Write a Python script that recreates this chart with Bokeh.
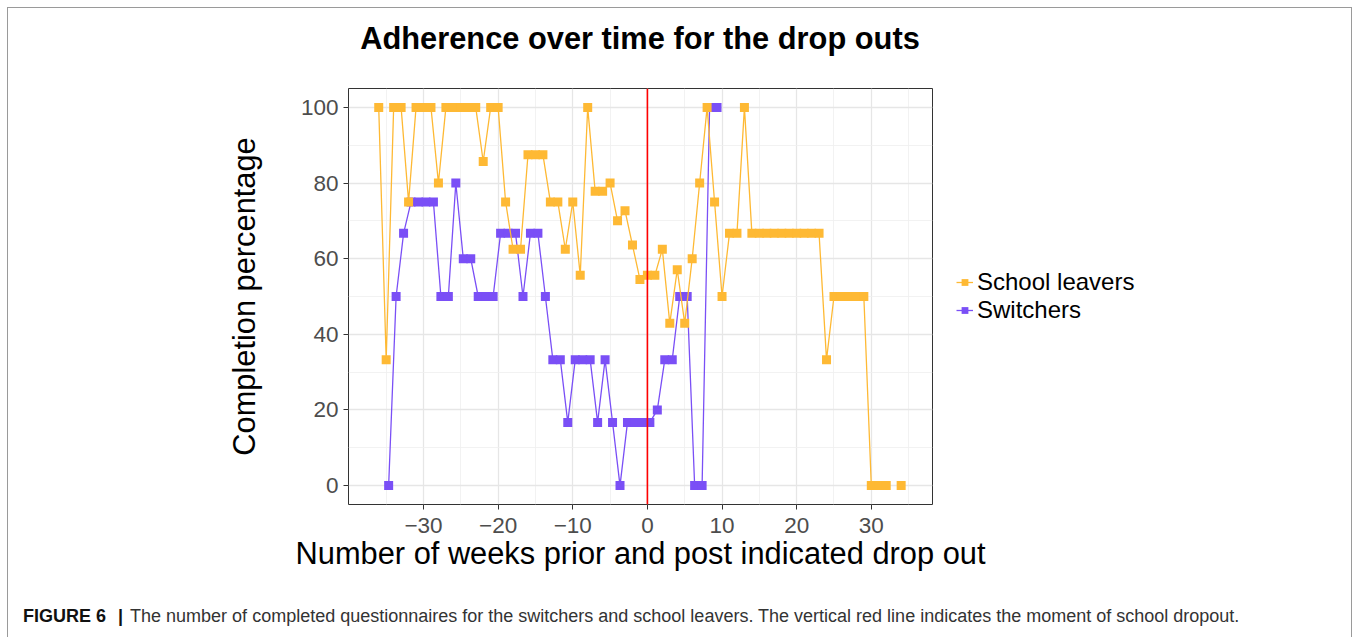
from bokeh.plotting import figure
from bokeh.models import (Range1d, FixedTicker, Span, Legend, LegendItem, Div,
                          ColumnDataSource)
from bokeh.layouts import column
from bokeh.transform import dodge
from bokeh.embed import file_html
from bokeh.resources import INLINE

nan = float("nan")

# ---- data -------------------------------------------------------------
leaver_weeks = list(range(-36, 35))
leaver_values = [
    100, 33.3, 100, 100, 75, 100, 100, 100, 80,            # -36 .. -28
    100, 100, 100, 100, 100, 85.7, 100, 100,               # -27 .. -20
    75, 62.5, 62.5, 87.5, 87.5, 87.5, 75, 75, 62.5, 75,    # -19 .. -10
    55.6, 100, 77.8, 77.8, 80, 70, 72.7, 63.6, 54.5,       # -9 .. -1
    55.6, 55.6, 62.5, 42.9, 57.1, 42.9, 60, 80, 100, 75,   # 0 .. 9
    50, 66.7, 66.7, 100,                                   # 10 .. 13
    66.7, 66.7, 66.7, 66.7, 66.7, 66.7, 66.7, 66.7, 66.7, 66.7,  # 14 .. 23
    33.3, 50, 50, 50, 50, 50,                              # 24 .. 29
    0, 0, 0, nan, 0,                                       # 30 .. 34
]

switcher_weeks = list(range(-35, 10))
switcher_values = [
    0, 50, 66.7, 75, 75, 75, 75, 50, 50, 80,               # -35 .. -26
    60, 60, 50, 50, 50, 66.7, 66.7, 66.7, 50, 66.7,        # -25 .. -16
    66.7, 50, 33.3, 33.3, 16.7, 33.3, 33.3, 33.3, 16.7, 33.3,  # -15 .. -6
    16.7, 0, 16.7, 16.7, 16.7, 16.7, 20, 33.3, 33.3, 50,   # -5 .. 4
    50, 0, 0, 100, 100,                                    # 5 .. 9
]

x_ticks = [-30, -20, -10, 0, 10, 20, 30]
x_tick_labels = ["\u221230", "\u221220", "\u221210", "0", "10", "20", "30"]
x_minor = [-35, -25, -15, -5, 5, 15, 25, 35]
y_ticks = [0, 20, 40, 60, 80, 100]
y_tick_labels = ["0", "20", "40", "60", "80", "100"]
y_minor = [10, 30, 50, 70, 90]

series_names = ["School leavers", "Switchers"]
title_text = "Adherence over time for the drop outs"
x_title = "Number of weeks prior and post indicated drop out"
y_title = "Completion percentage"
caption_bold = "FIGURE 6"
caption_text = ("The number of completed questionnaires for the switchers and school "
                "leavers. The vertical red line indicates the moment of school dropout.")

# ---- style ------------------------------------------------------------
FONT = "Liberation Sans"
ORANGE = "#FEB934"
PURPLE = "#7A4FF6"

title_div = Div(
    text=('<div style="width:1270px;text-align:center;padding-top:16px;'
          'font-family:\'Liberation Sans\';font-size:30.8px;font-weight:bold;'
          'line-height:36px;color:black;white-space:nowrap">' + title_text + '</div>'),
    width=1360, height=60)

p = figure(frame_width=584, frame_height=416, output_backend="svg", toolbar_location=None,
           x_range=Range1d(-40.05, 38.2), y_range=Range1d(-5, 105),
           min_border_left=348, min_border_right=0,
           min_border_top=18, min_border_bottom=93, title=None)
p.background_fill_color = "white"
p.border_fill_alpha = 0
p.outline_line_color = "#333333"
p.outline_line_width = 1

xt = FixedTicker(ticks=x_ticks, minor_ticks=x_minor)
yt = FixedTicker(ticks=y_ticks, minor_ticks=y_minor)
p.xaxis.ticker = xt
p.yaxis.ticker = yt
p.xgrid.ticker = xt
p.ygrid.ticker = yt
p.xaxis.major_label_overrides = dict(zip(x_ticks, x_tick_labels))
p.yaxis.major_label_overrides = dict(zip(y_ticks, y_tick_labels))

for g in (p.xgrid, p.ygrid):
    g.grid_line_color = "#e6e6e6"
    g.grid_line_width = 1.3
    g.minor_grid_line_color = "#efefef"
    g.minor_grid_line_width = 0.8

for ax in (p.xaxis, p.yaxis):
    ax.axis_line_color = None
    ax.major_tick_line_color = "#333333"
    ax.major_tick_in = 0
    ax.major_tick_out = 5
    ax.minor_tick_line_color = None
    ax.major_label_text_font = FONT
    ax.major_label_text_font_size = "22.5px"
    ax.major_label_text_color = "#4d4d4d"
    ax.axis_label_text_font = FONT
    ax.axis_label_text_font_size = "30.8px"
    ax.axis_label_text_font_style = "normal"
    ax.axis_label_text_color = "black"

p.xaxis.axis_label = x_title
p.yaxis.axis_label = y_title
p.xaxis.major_label_standoff = 8
p.yaxis.major_label_standoff = 5
p.xaxis.axis_label_standoff = 0
p.yaxis.axis_label_standoff = 36

# ---- glyphs -----------------------------------------------------------
src_s = ColumnDataSource(dict(week=switcher_weeks, value=switcher_values))
src_l = ColumnDataSource(dict(week=leaver_weeks, value=leaver_values))

sw_line = p.line(x=dodge("week", 0.33), y="value", source=src_s, line_color=PURPLE, line_width=1.3)
sw_pts = p.scatter(x=dodge("week", 0.33), y="value", source=src_s, marker="square", size=9,
                   fill_color=PURPLE, line_color=PURPLE, line_width=0)
sl_line = p.line(x="week", y="value", source=src_l, line_color=ORANGE, line_width=1.3)
sl_pts = p.scatter(x="week", y="value", source=src_l, marker="square", size=9,
                   fill_color=ORANGE, line_color=ORANGE, line_width=0)

p.add_layout(Span(location=0, dimension="height", line_color="#ff0000", line_width=1.6))

legend = Legend(items=[LegendItem(label=series_names[0], renderers=[sl_line, sl_pts]),
                       LegendItem(label=series_names[1], renderers=[sw_line, sw_pts])],
                location="left", orientation="vertical",
                glyph_width=17, glyph_height=20, label_height=20, label_standoff=4,
                spacing=0, padding=0, margin=24,
                label_text_font=FONT, label_text_font_size="24px",
                label_text_color="black",
                border_line_color=None, background_fill_alpha=0)
p.add_layout(legend, "right")

# ---- caption & outer frame ---------------------------------------------
cap_html = (
    '<div style="padding:4px 0 0 18px;font-family:\'Liberation Sans\';font-size:18px;'
    'line-height:20px;color:#333333;white-space:nowrap">'
    '<b style="color:#111111">' + caption_bold + '</b>'
    '<b style="color:#111111;margin-left:12px">|</b>'
    '<span style="margin-left:7px">' + caption_text + '</span></div>'
)
cap = Div(text=cap_html, width=1360, height=40)

G = "linear-gradient(#9a9a9a,#9a9a9a)"
frame_bg = (G + " 7px 7px / 1px 100% no-repeat, "
            + G + " 1351px 7px / 1px 100% no-repeat, "
            + G + " 7px 7px / 1345px 1px no-repeat, white")
layout = column(title_div, p, cap, spacing=0, styles={"background": frame_bg})

open("out.html", "w").write(file_html(layout, INLINE))
